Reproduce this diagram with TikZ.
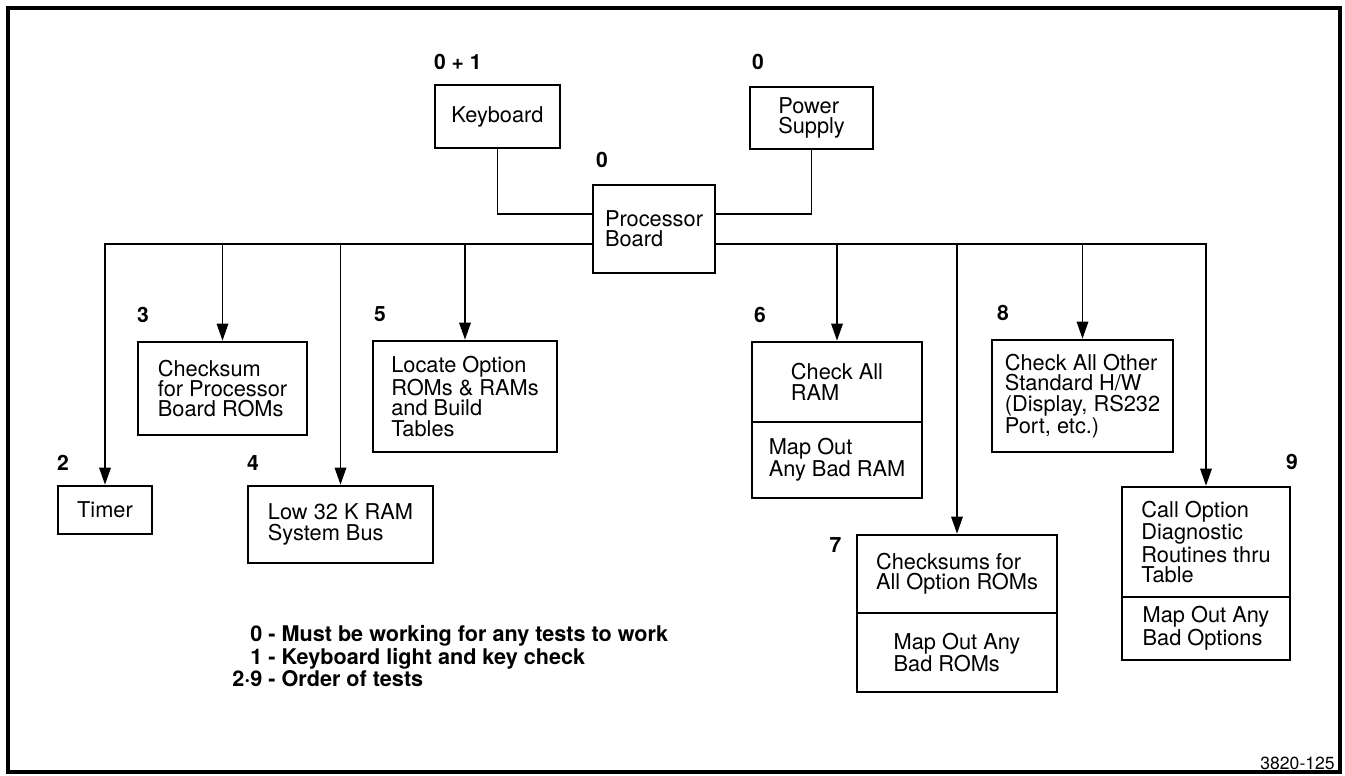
\documentclass[tikz,border=0pt]{standalone}
\usepackage{fontspec}
\setmainfont{TeX Gyre Heros}
\usetikzlibrary{positioning,arrows.meta}

\begin{document}
\begin{tikzpicture}[x=0.02cm,y=-0.02cm,
		blk/.style = {draw, line width=1.5pt, align=left, inner sep=0pt, font=\fontsize{12.4}{11.6}\selectfont},
		num/.style = {inner sep=0pt, font=\fontsize{12}{12}\selectfont\bfseries},
		wire/.style = {line width=0.9pt},
		arr/.style = {line width=0.9pt, -{Triangle[length=3.4mm,width=2.3mm]}}]
		\useasboundingbox (0,0) rectangle (1345,776);
		\draw[line width=1.8pt] (8,8) rectangle (1340,772);

		\node[blk, minimum width=2.5cm, minimum height=1.26cm] (kbd) at (497.5,116.5) {Keyboard};
		\node[blk, minimum width=2.46cm, minimum height=1.24cm] (psu) at (811.5,118) {Power\\Supply};
		\node[blk, minimum width=2.44cm, minimum height=1.76cm] (proc) at (654,229) {Processor\\Board};

		\node[blk, minimum width=1.88cm, minimum height=0.96cm] (timer) at (105,510) {Timer};
		\node[blk, minimum width=3.38cm, minimum height=1.86cm] (chk3) at (222.5,388.5) {Checksum\\for Processor\\Board ROMs};
		\node[blk, minimum width=3.7cm, minimum height=1.54cm] (low4) at (340.5,524.5) {Low 32 K RAM\\System Bus};
		\node[blk, minimum width=3.68cm, minimum height=2.22cm] (loc5) at (465,396.5) {Locate Option\\ROMs \& RAMs\\and Build\\Tables};
		\node[blk, minimum width=3.4cm, minimum height=1.6cm] (ram6) at (837,382) {Check All\\RAM};
		\node[blk, minimum width=3.4cm, minimum height=1.52cm] (ram6b) at (837,460) {Map Out\\Any Bad RAM};
		\node[blk, minimum width=4cm, minimum height=1.56cm] (rom7) at (957,574) {Checksums for\\All Option ROMs};
		\node[blk, minimum width=4cm, minimum height=1.58cm] (rom7b) at (957,652.5) {Map Out Any\\Bad ROMs};
		\node[blk, minimum width=3.62cm, minimum height=2.24cm] (hw8) at (1082.5,396) {Check All Other\\Standard H/W\\(Display, RS232\\Port, etc.)};
		\node[blk, minimum width=3.36cm, minimum height=2.2cm] (opt9) at (1206,542) {Call Option\\Diagnostic\\Routines thru\\Table};
		\node[blk, minimum width=3.36cm, minimum height=1.26cm] (opt9b) at (1206,628.5) {Map Out Any\\Bad Options};

		\node[num, above right=0.28cm and 0cm of kbd.north west] (nkbd) {0 + 1};
		\node[num, above right=0.32cm and 0.06cm of psu.north west] (npsu) {0};
		\node[num, above right=0.32cm and 0.08cm of proc.north west] (nproc) {0};
		\node[num, above right=0.28cm and 0cm of timer.north west] (n2) {2};
		\node[num, above right=0.35cm and 0cm of chk3.north west] (n3) {3};
		\node[num, above right=0.28cm and 0cm of low4.north west] (n4) {4};
		\node[num, above right=0.35cm and 0.04cm of loc5.north west] (n5) {5};
		\node[num, above right=0.35cm and 0.06cm of ram6.north west] (n6) {6};
		\node[num, below left=0.08cm and 0.28cm of rom7.north west] (n7) {7};
		\node[num, above right=0.35cm and 0.12cm of hw8.north west] (n8) {8};
		\node[num, above left=0.32cm and -0.14cm of opt9.north east] (n9) {9};

		\coordinate (busL) at ([yshift=-0.3cm]proc.west);
		\coordinate (busR) at ([yshift=-0.3cm]proc.east);
		\draw[wire] (kbd.south) |- ([yshift=0.3cm]proc.west);
		\draw[wire] (psu.south) |- ([yshift=0.3cm]proc.east);
		\draw[arr] (busL) -| (timer.north);
		\draw[arr] (busL) -| (chk3.north);
		\draw[arr] (busL) -| (low4.north);
		\draw[arr] (busL) -| (loc5.north);
		\draw[arr] (busR) -| (ram6.north);
		\draw[arr] (busR) -| (rom7.north);
		\draw[arr] (busR) -| (hw8.north);
		\draw[arr] (busR) -| (opt9.north);

		\node[anchor=west, inner sep=0pt, font=\fontsize{12.3}{11.4}\selectfont\bfseries] (legend) at (232,659)
			{\begin{tabular}{@{}r@{ - }l@{}}0&Must be working for any tests to work\\1&Keyboard light and key check\\2·9&Order of tests\end{tabular}};
		\node[anchor=south east, inner sep=0pt, font=\fontsize{10}{10}\selectfont] (fig) at (1335,770) {3820-125};
	\end{tikzpicture}
\end{document}
